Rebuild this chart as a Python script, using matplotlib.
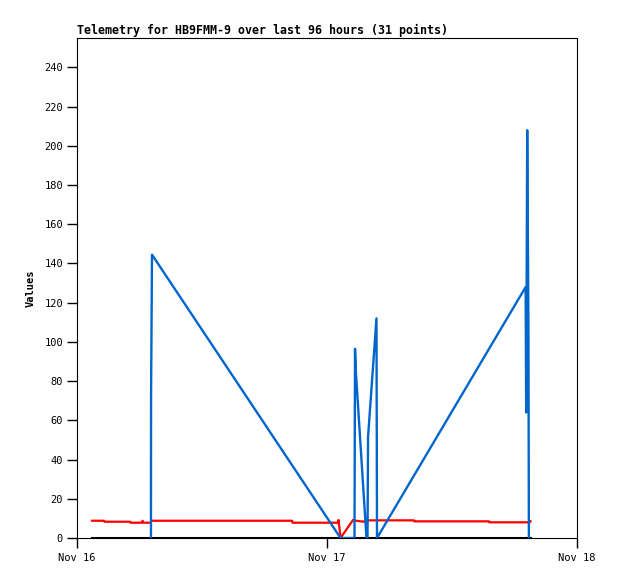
import matplotlib
matplotlib.use('Agg')
import matplotlib.pyplot as plt

# hours since Nov 16 00:00
blue_hours = [7.10, 7.11, 7.20, 25.30, 26.64, 26.69, 26.78, 27.79, 27.89, 27.94,
              28.75, 28.80, 43.07, 43.12, 43.22, 43.34, 43.38]
blue_vals = [0, 72, 144.5, 0, 0, 96.5, 84, 0, 0, 51.5,
             112, 0, 128, 64, 208, 104, 0]

red_hours = [1.44, 2.59, 2.64, 5.09, 5.14, 6.24, 6.29, 6.38, 7.06, 7.15,
             20.64, 20.69, 25.06, 25.11, 25.30, 26.50, 26.78, 27.55, 27.65,
             32.35, 32.40, 39.55, 39.60, 43.44, 43.54]
red_vals = [8.8, 8.8, 8.3, 8.3, 7.8, 7.8, 8.8, 7.8, 7.8, 8.8,
            8.8, 7.8, 7.8, 9.2, 0, 9.2, 8.8, 8.3, 9.0,
            9.0, 8.5, 8.5, 8.0, 8.0, 8.5]

black_hours = [1.44, 43.44]
black_vals = [0, 0]

xtick_hours = [0, 24, 48]
xtick_labels = ['Nov 16', 'Nov 17', 'Nov 18']
ytick_vals = list(range(0, 241, 20))

mono = 'DejaVu Sans Mono'

fig = plt.figure(figsize=(6.18, 5.79), dpi=100)
ax = fig.add_axes([77 / 618, 1 - 538 / 579, 500 / 618, 500 / 579])

ax.plot(black_hours, black_vals, color='#000000', linewidth=2.2, zorder=2)
ax.plot(red_hours, red_vals, color='#ff0000', linewidth=1.6, zorder=3)
ax.plot(blue_hours, blue_vals, color='#0066cc', linewidth=1.7, zorder=4)

ax.set_xlim(0, 48)
ax.set_ylim(0, 255)
ax.set_xticks(xtick_hours)
ax.set_xticklabels(xtick_labels, fontfamily=mono, fontsize=7.5)
ax.set_yticks(ytick_vals)
ax.set_yticklabels([str(v) for v in ytick_vals], fontfamily=mono, fontsize=7.5)
ax.tick_params(direction='out', length=7, width=1, pad=3)
ax.tick_params(axis='x', pad=4)

for sp in ax.spines.values():
    sp.set_linewidth(0.8)
    sp.set_color('#000000')

ax.set_ylabel('Values', fontfamily=mono, fontsize=7.5, fontweight='bold', labelpad=6)
ax.set_title('Telemetry for HB9FMM-9 over last 96 hours (31 points)',
             loc='left', fontfamily=mono, fontsize=8.4, fontweight='bold', pad=3)

plt.savefig('out.png', dpi=100)
